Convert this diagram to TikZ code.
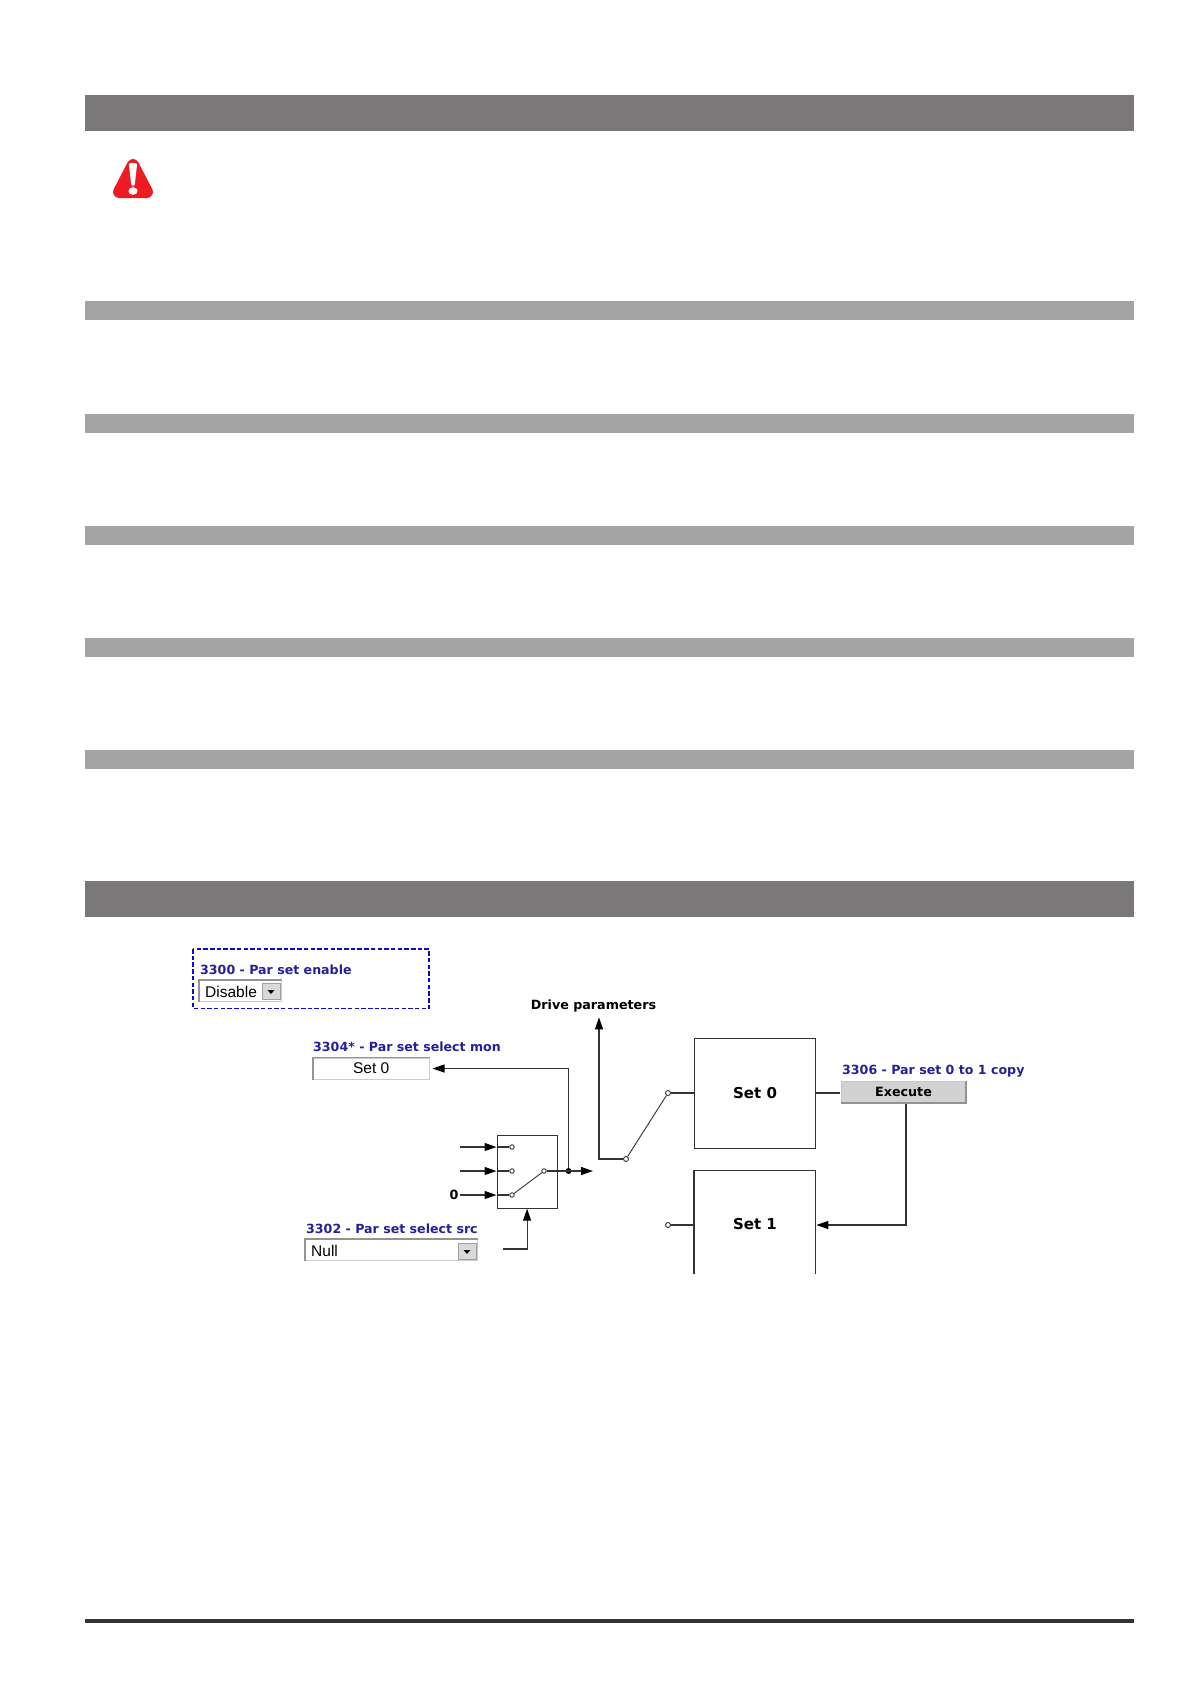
\documentclass[tikz,border=0pt]{standalone}
\usepackage{fontspec}
\usepackage{tikz}
\usetikzlibrary{arrows.meta, positioning}
\setmainfont{DejaVu Sans}
\newfontfamily\formfont{Liberation Sans}
\definecolor{darkbar}{HTML}{7A7878}
\definecolor{lightbar}{HTML}{A5A4A4}
\definecolor{warnred}{HTML}{ED1C24}
\definecolor{parblue}{HTML}{24209A}
\definecolor{dashblue}{HTML}{0A0AD8}
\definecolor{wire}{HTML}{333333}
\tikzset{
  wireline/.style={draw=wire,line width=1.15pt},
  arrowline/.style={wireline,-{Triangle[length=12pt,width=8pt,color=black]}},
  thinline/.style={draw=wire,line width=0.9pt},
  bevelline/.style={draw=gray!85,line width=1.5pt},
  parlabel/.style={anchor=base west,inner sep=0pt,text=parblue,font=\fontsize{12.6}{14}\selectfont\bfseries},
  boldtext/.style={inner sep=0pt,font=\fontsize{12.7}{14}\selectfont\bfseries},
  settext/.style={inner sep=0pt,font=\fontsize{15}{17}\selectfont\bfseries},
  blockbox/.style={minimum width=121pt,anchor=north west,inner sep=0pt},
  port/.style={circle,draw=wire,fill=white,line width=0.9pt,inner sep=0pt,minimum size=5pt},
  smallport/.style={port,minimum size=4.5pt},
  formbox/.style={anchor=north west,inner sep=0pt,draw=gray!40,fill=white,line width=1pt,minimum height=21pt,font=\formfont\fontsize{15.5}{18}\selectfont},
  formtext/.style={anchor=west,inner sep=0pt,font=\formfont\fontsize{15.5}{18}\selectfont},
  dropbtn/.style={anchor=north west,inner sep=0pt,draw=gray!75,fill=gray!30,line width=0.8pt,minimum width=18pt,minimum height=16pt}
}
\begin{document}
\begin{tikzpicture}[x=1pt,y=-1pt]
  \useasboundingbox (0,0) rectangle (1191,1684);

  % Section bars
  \fill[darkbar] (85,95) rectangle (1134,131);
  \fill[darkbar] (85,881) rectangle (1134,916.5);
  \foreach \bary in {301,414,526,638,750}
    \fill[lightbar] (85,\bary) rectangle (1134,\bary+18.5);
  \fill[wire] (85,1619) rectangle (1134,1623); % Footer line

  % Warning sign
  \filldraw[warnred,line width=12pt,line join=round] (133,165) -- (147,192) -- (119,192) -- cycle;
  \fill[white,rounded corners=2pt] (128.8,163) -- (137.2,163) -- (134.6,186.5) -- (131.4,186.5) -- cycle;
  \fill[white] (133,191) ellipse (4.5pt and 3.8pt);

  % Enable group
  \draw[dashblue,line width=1.9pt,dash pattern=on 4.5pt off 2.2pt] (193,949) rectangle (429,1008.5);
  \node[parlabel] (enablelabel) at (200,974) {3300 - Par set enable};
  \node[formbox,minimum width=82pt] (enablebox) at (199,980) {};
  \node[formtext] (enabletext) at (205,992) {Disable};
  \node[dropbtn] (enablebtn) at (262,983) {};
  \fill (267.5,990) -- (274.5,990) -- (271,994) -- cycle;
  \draw[bevelline] (enablebox.south west) -- (enablebox.north west) -- (enablebox.north east);

  % Monitor
  \node[parlabel] (monlabel) at (313,1051) {3304* - Par set select mon};
  \node[formbox,minimum width=115.5pt] (monbox) at (313,1057.5) {Set 0};
  \draw[bevelline] (monbox.south west) -- (monbox.north west) -- (monbox.north east);

  % Source
  \node[parlabel] (srclabel) at (306,1233) {3302 - Par set select src};
  \node[formbox,minimum width=172pt] (srcbox) at (305,1239) {};
  \node[formtext] (srctext) at (311,1251) {Null};
  \node[dropbtn] (srcbtn) at (458,1243) {};
  \fill (463.5,1250) -- (470.5,1250) -- (467,1254) -- cycle;
  \draw[bevelline] (srcbox.south west) -- (srcbox.north west) -- (srcbox.north east);

  % Selector
  \node[wireline,anchor=north west,minimum width=60pt,minimum height=73pt,inner sep=0pt] (selector) at (496.5,1134.5) {};
  \node[smallport] (ina) at (512,1147) {};
  \node[smallport] (inb) at (512,1171) {};
  \node[smallport] (inc) at (512,1195) {};
  \node[smallport] (selout) at (544,1171) {};
  \coordinate (freea) at (460,1147);
  \coordinate (freeb) at (460,1171);
  \coordinate (zeroend) at (460,1195);
  \node[boldtext] (zero) at (454,1195) {0};
  \draw[arrowline] (freea) -- (ina -| selector.west);
  \draw[arrowline] (freeb) -- (inb -| selector.west);
  \draw[arrowline] (zeroend) -- (inc -| selector.west);
  \draw[wireline] (ina -| selector.west) -- (ina);
  \draw[wireline] (inb -| selector.west) -- (inb);
  \draw[wireline] (inc -| selector.west) -- (inc);
  \draw[thinline] (inc) -- (selout);
  \coordinate (outend) at (593,1171);
  \node[circle,fill=black,inner sep=0pt,minimum size=6pt] (junction) at (568.5,1171) {};
  \draw[arrowline] (selout) -- (outend);
  \draw[arrowline] (junction) |- ([xshift=3pt]monbox.east);
  \coordinate (srcend) at (503,1249);
  \draw[arrowline] (srcend) -| (selector.south);

  % Sets
  \node[blockbox,wireline,minimum height=110pt,settext] (setzero) at (694,1037.5) {Set 0};
  \node[blockbox,minimum height=103.5pt] (setone) at (694,1170.5) {};
  \node[settext] (setonetext) at (755,1224) {Set 1};
  \draw[wireline] (setone.south west) -- (setone.north west) -- (setone.north east) -- (setone.south east);
  \node[port] (setzeroin) at (668,1093) {};
  \node[port] (setonein) at (668,1225) {};
  \node[port] (movearm) at (626,1159) {};
  \draw[wireline] (setzeroin) -- (setzero.west |- setzeroin);
  \draw[wireline] (setonein) -- (setone.west |- setonein);
  \draw[thinline] (movearm) -- (setzeroin);
  \node[boldtext] (drivelabel) at (593.5,1006) {Drive parameters};
  \draw[arrowline] (movearm) -| ([xshift=5.5pt,yshift=-5pt]drivelabel.south);

  % Copy command
  \node[parlabel] (copylabel) at (842,1074) {3306 - Par set 0 to 1 copy};
  \node[boldtext,anchor=north west,draw=gray!45,fill=gray!35,line width=1pt,minimum width=124pt,minimum height=21pt] (execute) at (841,1081) {Execute};
  \draw[bevelline] (execute.south west) -- (execute.south east) -- (execute.north east);
  \draw[wireline] (setzero.east |- setzeroin) -- ([xshift=-1pt]execute.west |- setzeroin);
  \coordinate (copystart) at (906,1104);
  \draw[arrowline] (copystart) |- ([xshift=1pt]setone.east |- setonein);
\end{tikzpicture}
\end{document}
